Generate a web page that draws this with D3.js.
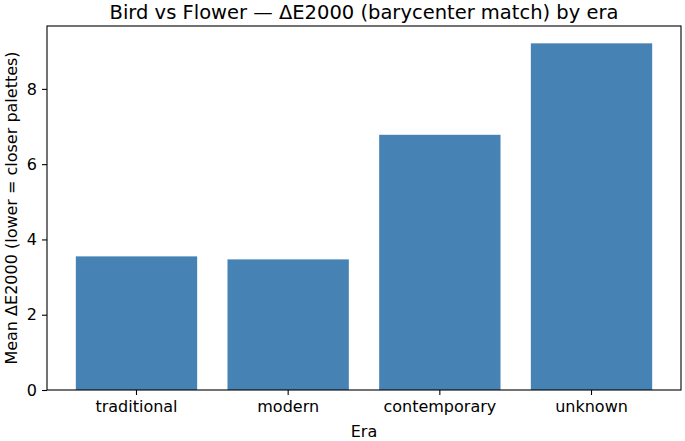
<!DOCTYPE html>
<html>
<head>
<meta charset="utf-8">
<script src="https://cdn.jsdelivr.net/npm/d3@7"></script>
<style>
  body { margin: 0; background: #fff; }
  svg text { font-family: "DejaVu Sans", sans-serif; fill: #000; }
</style>
</head>
<body>
<script>
// chart data
var eras = ["traditional", "modern", "contemporary", "unknown"];
var meanDE = [3.55, 3.47, 6.78, 9.21];
var yTicks = [0, 2, 4, 6, 8];

var W = 685, H = 441;
var margin = {top: 26, right: 4, bottom: 51, left: 47};

var svg = d3.select("body").append("svg")
    .attr("width", W)
    .attr("height", H);

var x = d3.scaleBand()
    .domain(eras)
    .range([margin.left, W - margin.right])
    .paddingInner(0.2)
    .paddingOuter(0.19);

var y = d3.scaleLinear()
    .domain([0, d3.max(meanDE) * 1.05])
    .range([H - margin.bottom, margin.top]);

// bars
svg.selectAll("rect.bar")
   .data(eras)
   .enter()
   .append("rect")
   .attr("class", "bar")
   .attr("x", function(d){ return x(d); })
   .attr("y", function(d, i){ return y(meanDE[i]); })
   .attr("width", x.bandwidth())
   .attr("height", function(d, i){ return y(0) - y(meanDE[i]); })
   .attr("fill", "#4682b4");

// axes
var xAxis = svg.append("g")
    .attr("transform", "translate(0," + (H - margin.bottom) + ")")
    .call(d3.axisBottom(x).tickSize(5).tickPadding(6).tickSizeOuter(0));
var yAxis = svg.append("g")
    .attr("transform", "translate(" + margin.left + ",0)")
    .call(d3.axisLeft(y).tickValues(yTicks).tickFormat(d3.format("d")).tickSize(5).tickPadding(5).tickSizeOuter(0));

[xAxis, yAxis].forEach(function(g){
    g.selectAll("text").style("font-size", "16px").attr("font-family", null);
    g.selectAll("line").attr("stroke", "#000").attr("stroke-width", 1.1);
    g.select(".domain").remove();
});

// frame
svg.append("rect")
   .attr("x", margin.left)
   .attr("y", margin.top)
   .attr("width", W - margin.left - margin.right)
   .attr("height", H - margin.top - margin.bottom)
   .attr("fill", "none")
   .attr("stroke", "#000")
   .attr("stroke-width", 1.1);

// title & labels
svg.append("text")
   .attr("x", (margin.left + W - margin.right) / 2)
   .attr("y", 19)
   .attr("text-anchor", "middle")
   .style("font-size", "19.5px")
   .text("Bird vs Flower \u2014 \u0394E2000 (barycenter match) by era");

svg.append("text")
   .attr("x", (margin.left + W - margin.right) / 2)
   .attr("y", 437)
   .attr("text-anchor", "middle")
   .style("font-size", "16px")
   .text("Era");

svg.append("text")
   .attr("transform", "translate(17," + ((margin.top + H - margin.bottom) / 2) + ") rotate(-90)")
   .attr("text-anchor", "middle")
   .style("font-size", "16px")
   .text("Mean \u0394E2000 (lower = closer palettes)");
</script>
</body>
</html>
